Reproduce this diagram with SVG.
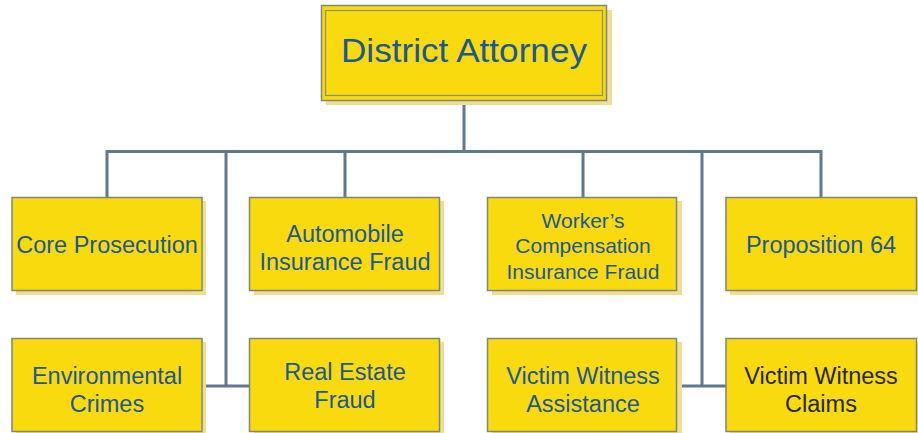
<svg xmlns="http://www.w3.org/2000/svg" width="918" height="433" viewBox="0 0 918 433">
<defs>
<style>
.sh{fill:#EEDF94}
.bx{fill:#F9DA0F;stroke:#7E8874;stroke-width:1.5}
.t{font-family:"Liberation Sans",Arial,sans-serif;font-size:23.5px;fill:#1B5894;text-anchor:middle}
.t2{font-size:21px}
.dk{fill:#262626}
.c{fill:none;stroke:#60788F;stroke-width:3}
</style>
</defs>
<rect width="918" height="433" fill="#FFFFFF"/>
<g id="connectors">
<path class="c" d="M464 100V151.5M107 151.5H821M107 150V197M226 150V386M345 150V197M583 150V197M702 150V386M821 150V197M202 386H249M678 386H726"/>
</g>
<g id="district-attorney">
<rect class="sh" x="326" y="10" width="286" height="95"/>
<rect x="321.5" y="5.5" width="285" height="95" fill="#F9DA0F" stroke="#7E8874" stroke-width="1.5"/>
<rect x="325.5" y="10.5" width="277" height="85" fill="none" stroke="#8A8F80" stroke-width="1.2"/>
<text x="464" y="61.5" font-family="'Liberation Sans',Arial,sans-serif" font-size="33" fill="#1B5894" text-anchor="middle" textLength="246" lengthAdjust="spacingAndGlyphs">District Attorney</text>
</g>
<g id="core-prosecution">
<rect class="sh" x="16" y="201" width="190" height="94"/>
<rect class="bx" x="12" y="197.5" width="190" height="93"/>
<text class="t" x="107" y="253">Core Prosecution</text>
</g>
<g id="automobile-insurance-fraud">
<rect class="sh" x="254" y="201" width="190" height="94"/>
<rect class="bx" x="249.5" y="197.5" width="190" height="93"/>
<text class="t" x="345" y="242">Automobile</text>
<text class="t" x="345" y="270">Insurance Fraud</text>
</g>
<g id="workers-compensation-insurance-fraud">
<rect class="sh" x="492" y="201" width="190" height="94"/>
<rect class="bx" x="487.5" y="197.5" width="189" height="93"/>
<text class="t t2" x="583" y="227.5">Worker’s</text>
<text class="t t2" x="583" y="253">Compensation</text>
<text class="t t2" x="583" y="278.5">Insurance Fraud</text>
</g>
<g id="proposition-64">
<rect class="sh" x="730" y="201" width="190" height="94"/>
<rect class="bx" x="726" y="197.5" width="190.5" height="93"/>
<text class="t" x="821" y="253">Proposition 64</text>
</g>
<g id="environmental-crimes">
<rect class="sh" x="16" y="342" width="190" height="94"/>
<rect class="bx" x="12" y="338.5" width="190" height="93"/>
<text class="t" x="107" y="384">Environmental</text>
<text class="t" x="107" y="411.5">Crimes</text>
</g>
<g id="real-estate-fraud">
<rect class="sh" x="254" y="342" width="190" height="94"/>
<rect class="bx" x="249.5" y="338.5" width="190" height="93"/>
<text class="t" x="345" y="380">Real Estate</text>
<text class="t" x="345" y="407.5">Fraud</text>
</g>
<g id="victim-witness-assistance">
<rect class="sh" x="492" y="342" width="190" height="94"/>
<rect class="bx" x="487.5" y="338.5" width="189" height="93"/>
<text class="t" x="583" y="384">Victim Witness</text>
<text class="t" x="583" y="411.5">Assistance</text>
</g>
<g id="victim-witness-claims">
<rect class="sh" x="730" y="342" width="190" height="94"/>
<rect class="bx" x="726" y="338.5" width="190.5" height="93"/>
<text class="t dk" x="821" y="384">Victim Witness</text>
<text class="t dk" x="821" y="411.5">Claims</text>
</g>
</svg>
